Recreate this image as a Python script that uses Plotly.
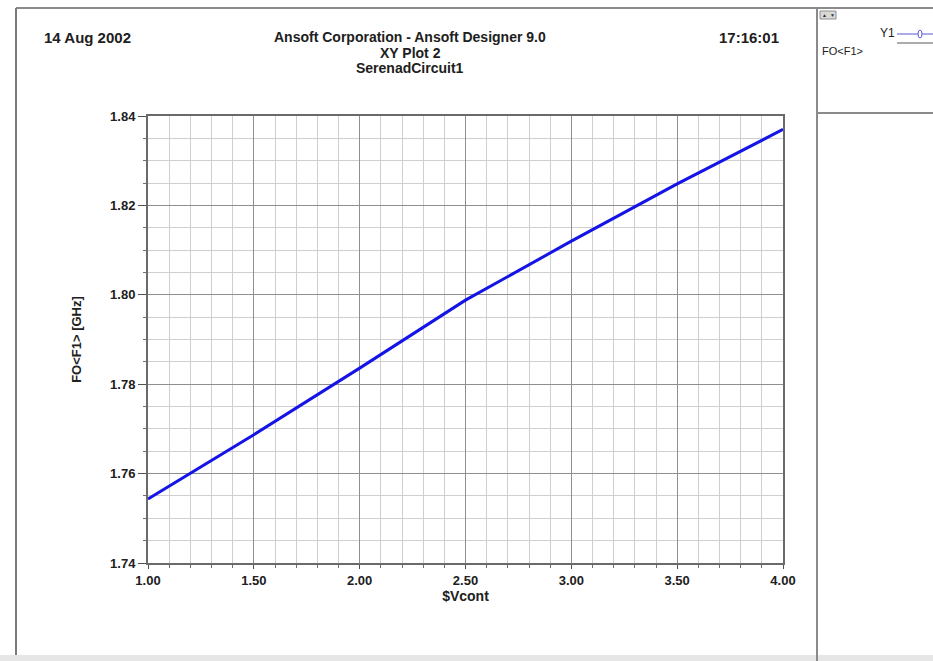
import plotly.graph_objects as go

# ---- data ----
vcont = [1.0, 1.5, 2.0, 2.5, 3.0, 3.5, 4.0]
f0_ghz = [1.7543, 1.7687, 1.7836, 1.7988, 1.8120, 1.8248, 1.8370]

x_ticks = [1.0, 1.5, 2.0, 2.5, 3.0, 3.5, 4.0]
x_ticklabels = ["1.00", "1.50", "2.00", "2.50", "3.00", "3.50", "4.00"]
y_ticks = [1.74, 1.76, 1.78, 1.80, 1.82, 1.84]
y_ticklabels = ["1.74", "1.76", "1.78", "1.80", "1.82", "1.84"]

header_left = "14 Aug 2002"
header_center = ["Ansoft Corporation - Ansoft Designer 9.0", "XY Plot 2", "SerenadCircuit1"]
header_right = "17:16:01"
x_title = "$Vcont"
y_title = "FO<F1> [GHz]"
legend_name = "Y1"
legend_item = "FO<F1>"

W, H = 933, 661
L, R, T, B = 148, 783, 116, 563
FONT = "Liberation Sans, Arial, sans-serif"


def xp(px):
    return (px - L) / (R - L)


def yp(py):
    return (B - py) / (B - T)


fig = go.Figure()
fig.add_trace(go.Scatter(
    x=vcont, y=f0_ghz, mode="lines",
    line=dict(color="#1414e6", width=3),
    name=legend_name, showlegend=False, hoverinfo="x+y",
))

axis_common = dict(
    showline=True, mirror=True, linecolor="#6a6a6a", linewidth=2,
    showgrid=True, gridcolor="#8f8f8f", gridwidth=1,
    zeroline=False, ticks="outside", tickcolor="#505050",
    tickfont=dict(family=FONT, size=13, color="#202020", weight="bold"),
)

fig.update_xaxes(
    range=[1.0, 4.0], tickmode="array", tickvals=x_ticks, ticktext=x_ticklabels,
    ticklen=4,
    minor=dict(dtick=0.1, showgrid=True, gridcolor="#cfcfcf", gridwidth=1,
               ticks="outside", ticklen=3, tickcolor="#707070"),
    title=dict(text=x_title, standoff=4,
               font=dict(family=FONT, size=14, color="#202020", weight="bold")),
    **axis_common,
)
fig.update_yaxes(
    range=[1.74, 1.84], tickmode="array", tickvals=y_ticks, ticktext=y_ticklabels,
    ticklen=8,
    minor=dict(dtick=0.005, showgrid=True, gridcolor="#cfcfcf", gridwidth=1,
               ticks="outside", ticklen=3, tickcolor="#707070"),
    title=dict(text=y_title, standoff=26,
               font=dict(family=FONT, size=13, color="#202020", weight="bold")),
    **axis_common,
)

ann = []
hdr_font = dict(family=FONT, size=14, color="#202020", weight="bold")
ann.append(dict(text=header_left, x=xp(42), y=yp(37), xanchor="left", yanchor="middle",
                showarrow=False, xref="paper", yref="paper",
                font=dict(family=FONT, size=15, color="#202020", weight="bold")))
ann.append(dict(text=header_right, x=xp(781), y=yp(37), xanchor="right", yanchor="middle",
                showarrow=False, xref="paper", yref="paper",
                font=dict(family=FONT, size=15, color="#202020", weight="bold")))
for i, t in enumerate(header_center):
    ann.append(dict(text=t, x=xp(410), y=yp(37 + 15.5 * i), xanchor="center", yanchor="middle",
                    showarrow=False, xref="paper", yref="paper", font=hdr_font))
# legend panel texts
ann.append(dict(text=legend_name, x=xp(897), y=yp(33), xanchor="right", yanchor="middle",
                showarrow=False, xref="paper", yref="paper",
                font=dict(family=FONT, size=12, color="#202020")))
ann.append(dict(text=legend_item, x=xp(820), y=yp(51), xanchor="left", yanchor="middle",
                showarrow=False, xref="paper", yref="paper",
                font=dict(family=FONT, size=11, color="#202020")))
ann.append(dict(text="▲", x=xp(824), y=yp(15), xanchor="center", yanchor="middle",
                showarrow=False, xref="paper", yref="paper",
                font=dict(family=FONT, size=5, color="#303030")))
ann.append(dict(text="▼", x=xp(832), y=yp(15), xanchor="center", yanchor="middle",
                showarrow=False, xref="paper", yref="paper",
                font=dict(family=FONT, size=5, color="#303030")))

shapes = []


def hline(x0, x1, y, color, width):
    shapes.append(dict(type="line", xref="paper", yref="paper",
                       x0=xp(x0), x1=xp(x1), y0=yp(y), y1=yp(y),
                       line=dict(color=color, width=width)))


def vline(x, y0, y1, color, width):
    shapes.append(dict(type="line", xref="paper", yref="paper",
                       x0=xp(x), x1=xp(x), y0=yp(y0), y1=yp(y1),
                       line=dict(color=color, width=width)))


# bottom gray band
shapes.append(dict(type="rect", xref="paper", yref="paper",
                   x0=xp(0), x1=xp(W), y0=yp(655), y1=yp(H + 2),
                   fillcolor="#e6e6e6", line=dict(width=0), layer="below"))
# frame
hline(16, W, 8, "#8a8a8a", 2)
vline(16, 8, 655, "#7a7a7a", 2)
vline(817, 8, H, "#8a8a8a", 2)
hline(817, W, 113, "#8a8a8a", 2)
# small scroll buttons
shapes.append(dict(type="rect", xref="paper", yref="paper",
                   x0=xp(820), x1=xp(836), y0=yp(19), y1=yp(11),
                   fillcolor="#d8d8d8", line=dict(color="#909090", width=1)))
# legend line sample
hline(897, W, 34, "#5a5ad0", 1.2)
hline(897, W, 43, "#909090", 1.5)
shapes.append(dict(type="circle", xref="paper", yref="paper",
                   x0=xp(918), x1=xp(922), y0=yp(30), y1=yp(38),
                   line=dict(color="#5a5ad0", width=1), fillcolor="white"))

fig.update_layout(
    width=W, height=H,
    margin=dict(l=L, r=W - R, t=T, b=H - B, pad=0),
    paper_bgcolor="white", plot_bgcolor="white",
    annotations=ann, shapes=shapes,
    showlegend=False,
    font=dict(family=FONT),
)

fig.write_html("out.html", config={"displayModeBar": False},
               post_script="document.body.style.margin='0px';document.body.style.overflow='hidden';")
